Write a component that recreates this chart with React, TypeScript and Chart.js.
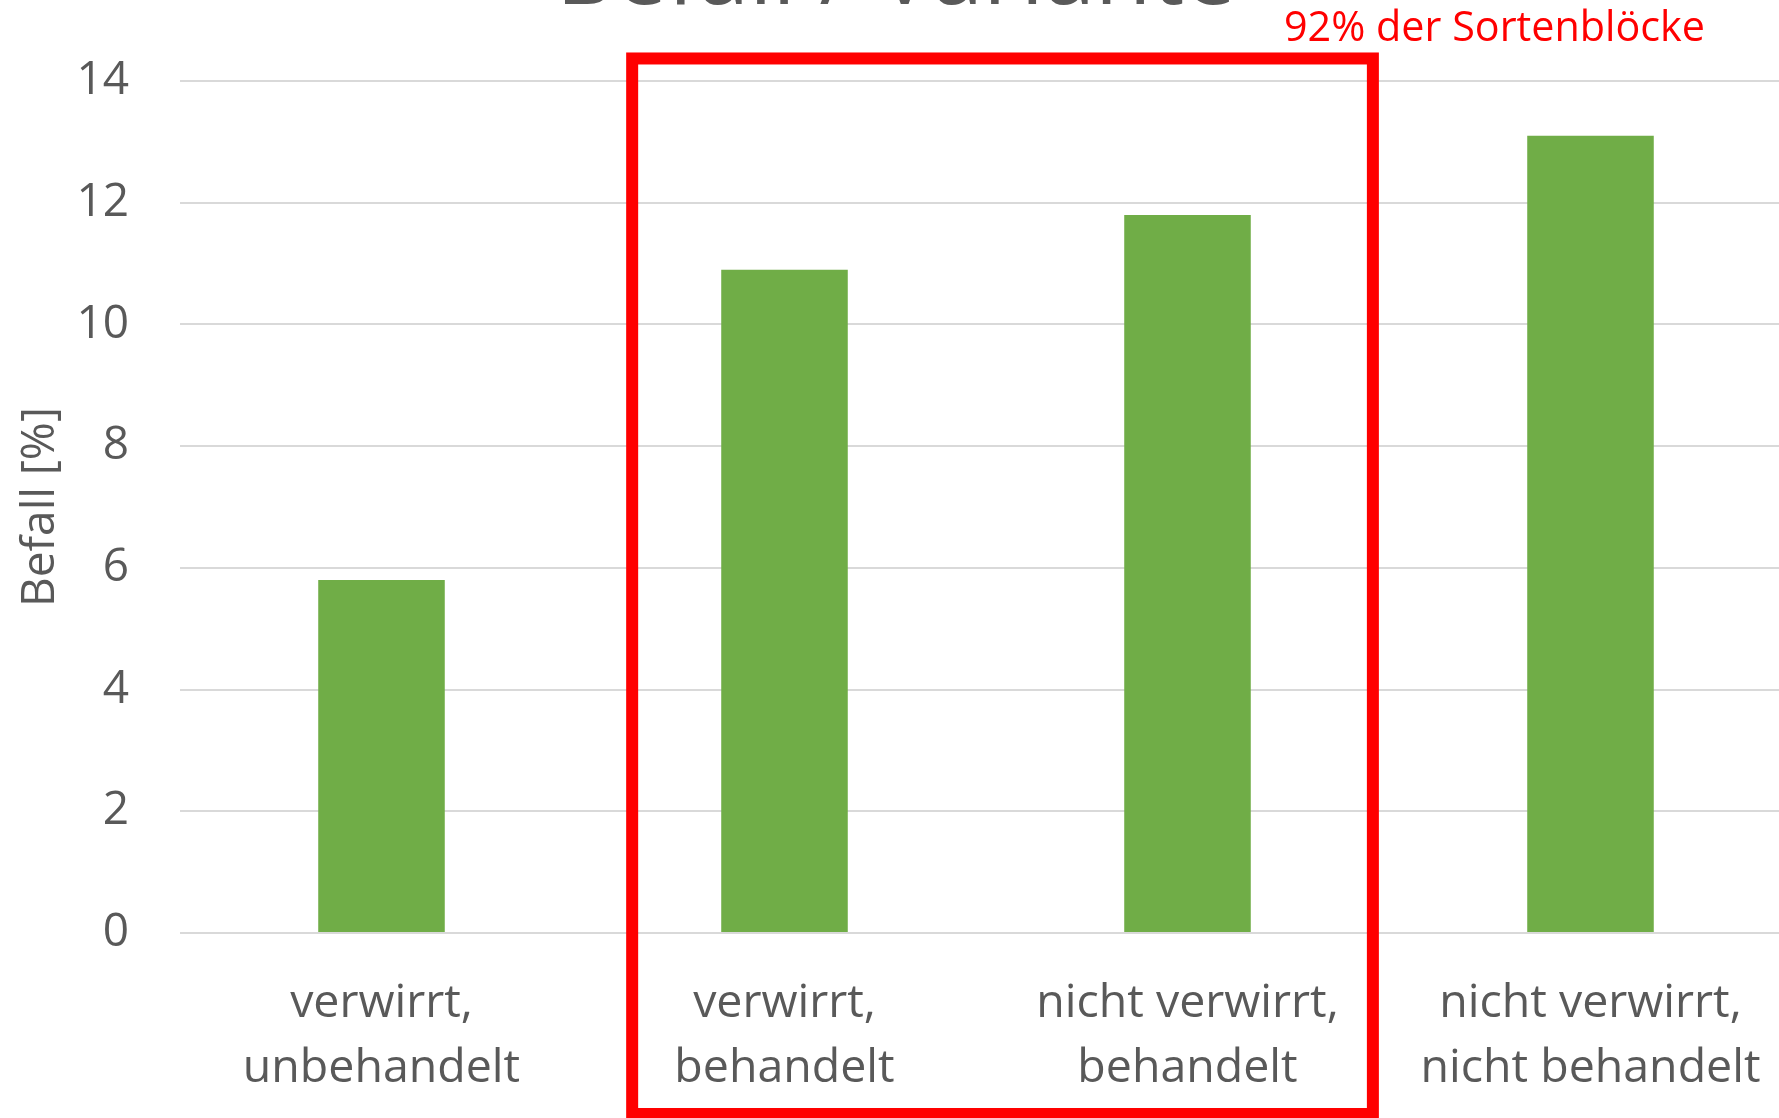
import React, { useEffect, useRef } from "react";
import { Chart, registerables } from "chart.js";

Chart.register(...registerables);

// ---- data ----
const categories: string[][] = [
  ["verwirrt,", "unbehandelt"],
  ["verwirrt,", "behandelt"],
  ["nicht verwirrt,", "behandelt"],
  ["nicht verwirrt,", "nicht behandelt"],
];
const befallValues: number[] = [5.8, 10.9, 11.8, 13.1];
const yMin = 0;
const yMax = 14;
const yStep = 2;
const chartTitle = "Befall / Variante";
const yAxisTitle = "Befall [%]";
const boxLabel = "92% der Sortenblöcke";
// highlighted range (category index units / value units)
const boxFrom = 0.622;
const boxTo = 2.46;
const boxTop = 14.37;

const FONT = "'Open Sans', 'Noto Sans', sans-serif";
const GREY = "#595959";

function fitFont(ctx: CanvasRenderingContext2D, text: string, width: number) {
  ctx.font = `100px ${FONT}`;
  const w = ctx.measureText(text).width;
  const size = (100 * width) / w;
  ctx.font = `${size}px ${FONT}`;
}

const overlayPlugin = {
  id: "overlay",
  afterDatasetsDraw(chart: any) {
    const { ctx } = chart;
    const x = chart.scales.x;
    const y = chart.scales.y;
    ctx.save();
    // cut-off chart title
    ctx.fillStyle = GREY;
    ctx.textAlign = "center";
    ctx.textBaseline = "alphabetic";
    fitFont(ctx, chartTitle, 680);
    ctx.fillText(chartTitle, 896, 4);

    // red highlight box
    const l = x.getPixelForValue(boxFrom);
    const r = x.getPixelForValue(boxTo);
    const t = y.getPixelForValue(boxTop);
    const b = chart.height - 4;
    ctx.strokeStyle = "#ff0000";
    ctx.lineWidth = 12;
    ctx.strokeRect(l, t, r - l, b - t);

    // red label
    ctx.fillStyle = "#ff0000";
    ctx.textAlign = "left";
    fitFont(ctx, boxLabel, 421);
    ctx.fillText(boxLabel, 1284, 41);
    ctx.restore();
  },
};

export default function App() {
  const canvasRef = useRef<HTMLCanvasElement | null>(null);

  useEffect(() => {
    if (!canvasRef.current) return;
    const chart = new Chart(canvasRef.current, {
      type: "bar",
      data: {
        labels: categories as any,
        datasets: [
          {
            label: "Befall",
            data: befallValues,
            backgroundColor: "#70ad47",
            borderWidth: 0,
            barPercentage: 0.314,
            categoryPercentage: 1,
          },
        ],
      },
      options: {
        animation: false,
        responsive: true,
        maintainAspectRatio: false,
        layout: { padding: { top: 81, right: 8, bottom: 0, left: 0 } },
        plugins: {
          legend: { display: false },
          tooltip: { enabled: false },
          title: { display: false },
        },
        scales: {
          x: {
            grid: { display: false, drawTicks: false },
            border: { display: false },
            ticks: {
              color: GREY,
              font: { family: FONT, size: 46.5, lineHeight: 1.4 },
              padding: 38,
              maxRotation: 0,
              minRotation: 0,
              autoSkip: false,
            },
            afterFit: (scale: any) => {
              scale.height = 185;
            },
          },
          y: {
            min: yMin,
            max: yMax,
            ticks: {
              stepSize: yStep,
              color: GREY,
              font: { family: FONT, size: 46 },
              padding: 51,
            },
            grid: { color: "#d9d9d9", lineWidth: 2, drawTicks: false },
            border: { display: false },
            title: {
              display: true,
              text: yAxisTitle,
              color: GREY,
              font: { family: FONT, size: 46 },
              padding: { top: 13, bottom: 0 },
            },
            afterFit: (scale: any) => {
              scale.width = 180;
            },
          },
        },
      },
      plugins: [overlayPlugin],
    });
    return () => chart.destroy();
  }, []);

  return (
    <div
      style={{
        position: "fixed",
        left: 0,
        top: 0,
        width: 1779,
        height: 1118,
        overflow: "hidden",
        background: "#ffffff",
      }}
    >
      <div style={{ position: "relative", width: 1800, height: 1118 }}>
        <canvas ref={canvasRef} />
      </div>
    </div>
  );
}
